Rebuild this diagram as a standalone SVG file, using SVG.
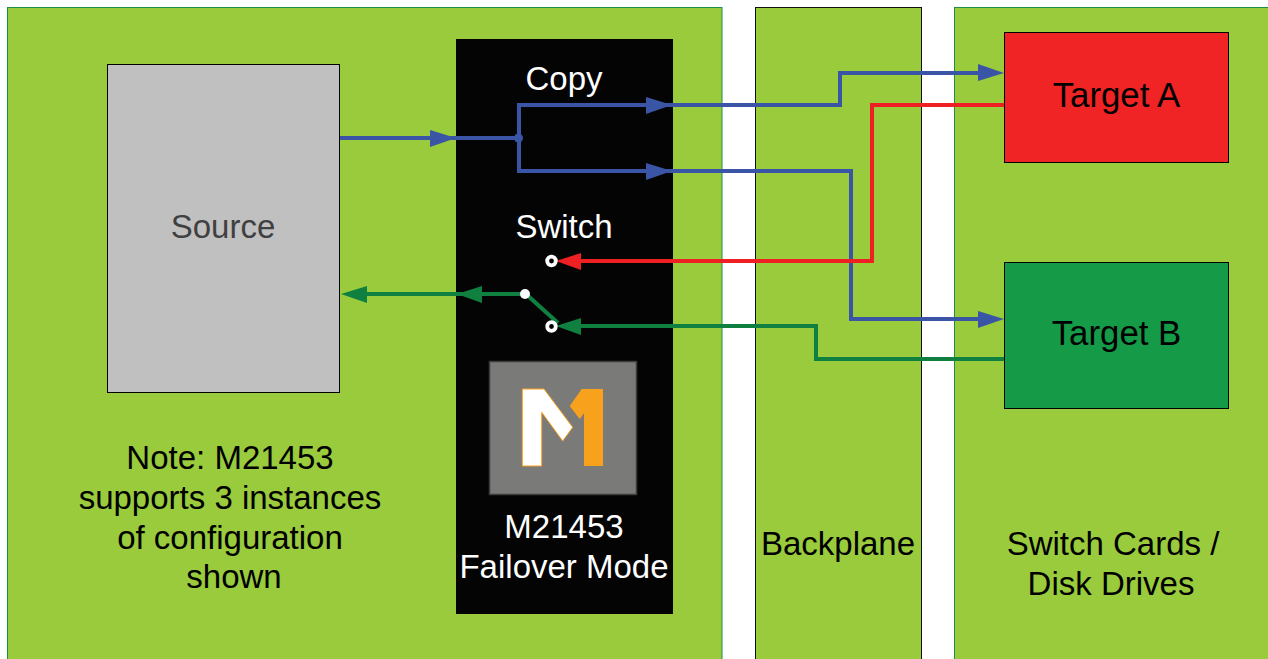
<svg xmlns="http://www.w3.org/2000/svg" width="1268" height="659" viewBox="0 0 1268 659">
<style>
text{font-family:"Liberation Sans",Arial,sans-serif;font-size:33px;text-anchor:middle;fill:#000}
.w{fill:#fff}
.t{font-size:34.800px}
.p{fill:#99cb3c;stroke:#1a8f45;stroke-width:1}
.c{fill:none;stroke-width:4;stroke-linejoin:miter}
.b{stroke:#3a55a5}.r{stroke:#ee2024}.g{stroke:#0f8040}
.hb{fill:#3a55a5}.hr{fill:#ee2024}.hg{fill:#0f8040}
</style>
<rect width="1268" height="659" fill="#fff"/>
<g id="panel-left"><rect class="p" x="7.500" y="7.500" width="714.500" height="660"/></g>
<g id="panel-backplane"><rect x="755.500" y="7.500" width="166" height="660" fill="#99cb3c" stroke="#111" stroke-width="1"/><text x="838" y="555">Backplane</text></g>
<g id="panel-cards"><rect class="p" x="954.500" y="7.500" width="330" height="660"/><text x="1113" y="555">Switch Cards /</text><text x="1111" y="595">Disk Drives</text></g>
<g id="source"><rect x="107.500" y="64.500" width="232" height="328" fill="#c0c0c0" stroke="#000" stroke-width="1"/><text x="223" y="238" style="fill:#404040">Source</text></g>
<g id="note"><text x="230" y="469">Note: M21453</text><text x="230" y="509">supports 3 instances</text><text x="230" y="549">of configuration</text><text x="234" y="588">shown</text></g>
<g id="m21453"><rect x="456" y="39" width="217" height="575" fill="#040404"/>
<text class="w" x="564" y="90">Copy</text><text class="w" x="564" y="238">Switch</text>
<text class="w" x="564" y="538">M21453</text><text class="w" x="564" y="578">Failover Mode</text>
<rect x="489.500" y="361.500" width="147" height="133" fill="#7a7a78" stroke="#3c3c3c" stroke-width="1.500"/>
<polygon points="522.300,389 544,389 572.700,427.300 562.700,441 541.700,412.300 541.700,466 522.300,466" fill="#fff" stroke="#f8a11c" stroke-width="1"/>
<polygon points="581.700,389 603,389 603,466 584,466 584,413.300 579.700,419 569.700,406" fill="#f8a11c"/></g>
<g id="target-a"><rect x="1004.500" y="32.500" width="224" height="130" fill="#f02325" stroke="#000" stroke-width="1"/><text class="t" x="1116.500" y="107">Target A</text></g>
<g id="target-b"><rect x="1004.500" y="262.500" width="224" height="146" fill="#159a48" stroke="#000" stroke-width="1"/><text class="t" x="1116.500" y="345">Target B</text></g>
<g id="connectors">
<path class="c b" d="M340 138H519"/>
<path class="c b" d="M519 138V105H840V73H985"/>
<path class="c b" d="M519 138V171H851V319H985"/>
<path class="c r" d="M1004 105H872V261H575"/>
<path class="c g" d="M1004 359H816V326H575"/>
<path class="c g" d="M525 294H360"/>
<path class="c g" d="M527 295L558 323"/>
<circle cx="518.500" cy="138" r="4.500" class="hb"/>
<polygon class="hb" points="430,130 456,138 430,147"/>
<polygon class="hb" points="646,97 672,105 646,114"/>
<polygon class="hb" points="646,163 672,171 646,180"/>
<polygon class="hb" points="978,64 1004,73 978,81"/>
<polygon class="hb" points="978,311 1004,319 978,328"/>
<polygon class="hr" points="581,253 556,261 581,270"/>
<polygon class="hg" points="581,318 556,326 581,335"/>
<polygon class="hg" points="367,286 341,294 367,303"/>
<polygon class="hg" points="482,286 457,294 482,303"/>
<circle cx="525" cy="294" r="5" fill="#fff"/>
<circle cx="551.500" cy="261" r="4.300" fill="#040404" stroke="#fff" stroke-width="3.800"/>
<circle cx="551.500" cy="326.500" r="4.300" fill="#040404" stroke="#fff" stroke-width="3.800"/>
</g>
</svg>
